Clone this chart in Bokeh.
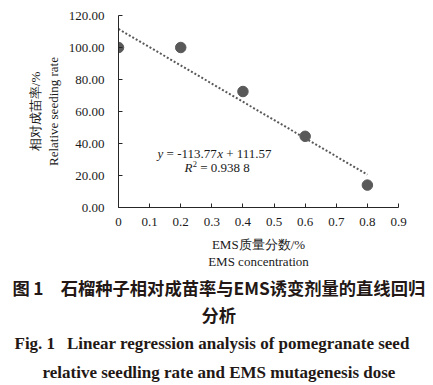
from bokeh.plotting import figure
from bokeh.models import Label, FixedTicker, ColumnDataSource, Range1d, Title
from bokeh.embed import file_html
from bokeh.resources import INLINE

# ---- data ----
ems_conc = [0, 0.2, 0.4, 0.6, 0.8]
seedling_rate = [100.0, 100.0, 72.5, 44.5, 14.0]
slope = -113.77
intercept = 111.57
r2_text = "0.938 8"
x_ticks = [0, 0.1, 0.2, 0.3, 0.4, 0.5, 0.6, 0.7, 0.8, 0.9]
x_tick_labels = ["0", "0.1", "0.2", "0.3", "0.4", "0.5", "0.6", "0.7", "0.8", "0.9"]
y_ticks = [0, 20, 40, 60, 80, 100, 120]
y_tick_labels = ["0.00", "20.00", "40.00", "60.00", "80.00", "100.00", "120.00"]
x_label_cn = "EMS质量分数/%"
x_label_en = "EMS concentration"
y_label_cn = "相对成苗率/%"
y_label_en = "Relative seeding rate"
caption_cn_1 = "图\u20091\u3000石榴种子相对成苗率与EMS诱变剂量的直线回归"
caption_cn_2 = "分析"
caption_en_1 = "Fig. 1\u2002\u2009Linear regression analysis of pomegranate seed"
caption_en_2 = "relative seedling rate and EMS mutagenesis dose"

X0, X1, Y0, Y1 = 0.0, 0.9, 0.0, 120.0
FL, FW, FT, FH = 118, 280, 15, 192  # frame left/width/top/height in px
W, H = 433, 385

p = figure(width=W, height=H, output_backend="svg", toolbar_location=None,
           x_range=Range1d(X0, X1), y_range=Range1d(Y0, Y1),
           min_border_left=FL, min_border_right=W - FL - FW,
           min_border_top=FT, min_border_bottom=H - FT - FH)
p.outline_line_color = None
p.xgrid.visible = False
p.ygrid.visible = False
p.background_fill_color = "white"
p.border_fill_color = "white"

AX = "#262626"
TXT = "#1a1a1a"
SERIF = "Liberation Serif"
CJK = "Noto Sans CJK SC"

for ax in (p.xaxis[0], p.yaxis[0]):
    ax.axis_line_color = AX
    ax.major_tick_line_color = AX
    ax.minor_tick_line_color = None
    ax.major_tick_in = 4
    ax.major_tick_out = 0
    ax.major_label_text_font = SERIF
    ax.major_label_text_font_size = "13px"
    ax.major_label_text_color = TXT
    ax.axis_label_text_font = SERIF
    ax.axis_label_text_font_size = "13px"
    ax.axis_label_text_font_style = "normal"
    ax.axis_label_text_color = TXT
    ax.axis_label_text_line_height = 1.19

p.xaxis[0].ticker = FixedTicker(ticks=x_ticks)
p.xaxis[0].major_label_overrides = {t: l for t, l in zip(x_ticks, x_tick_labels)}
p.xaxis[0].major_label_standoff = 10
p.xaxis[0].axis_label = x_label_cn + "\n" + x_label_en
p.xaxis[0].axis_label_standoff = 8
p.yaxis[0].ticker = FixedTicker(ticks=y_ticks)
p.yaxis[0].major_label_overrides = {t: l for t, l in zip(y_ticks, y_tick_labels)}
p.yaxis[0].major_label_standoff = 14
p.yaxis[0].axis_label = y_label_cn + "\n" + y_label_en
p.yaxis[0].axis_label_standoff = 5

# trend line
trend_x = [ems_conc[0], ems_conc[-1]]
trend_y = [slope * v + intercept for v in trend_x]
p.line(trend_x, trend_y, line_color="#595959", line_width=2, line_dash="2 2")

src = ColumnDataSource(dict(x=ems_conc, y=seedling_rate))
p.scatter("x", "y", source=src, size=10.5, fill_color="#595959", line_color="#595959")

# helpers: canvas px -> data
def dx(px):
    return (px - FL) / FW * (X1 - X0) + X0

def dy(py):
    return (FT + FH - py) / FH * (Y1 - Y0) + Y0

def lab(text, px, py, size, style="normal", xo=0, yo=0):
    p.add_layout(Label(x=dx(px), y=dy(py), text=text, text_font=SERIF,
                       text_font_size=size, text_font_style=style,
                       text_align="left", text_baseline="middle",
                       text_color=TXT, x_offset=xo, y_offset=yo))

NB = "\u00a0"
eq_x, eq_y = 157, 153
fs = "13px"
lab("y", eq_x, eq_y, fs, style="italic")
lab(NB + "=" + NB + "%.2f" % slope, eq_x, eq_y, fs, xo=5.8)
lab("x", eq_x, eq_y, fs, style="italic", xo=59.7)
lab(NB + "+" + NB + "%.2f" % intercept, eq_x, eq_y, fs, xo=65.5)
r_x, r_y = 184, 167
lab("R", r_x, r_y, fs, style="italic")
lab("2", r_x, r_y, "8.5px", xo=8.2, yo=4)
lab(NB + "=" + NB + r2_text.replace(" ", NB), r_x, r_y, fs, xo=12.5)

# captions as titles below
CAP = "#231815"
def cap(text, left_px, font, standoff, size="17px"):
    p.add_layout(Title(text=text, align="left", offset=left_px - FL,
                       text_font=font, text_font_size=size,
                       text_font_style="bold", text_color=CAP, standoff=standoff),
                 "below")

cap(caption_cn_1, 12, CJK, 0, "17.3px")
cap(caption_cn_2, 201, CJK, 0, "17.3px")
cap(caption_en_1, 14, SERIF, 10)
cap(caption_en_2, 42, SERIF, 6)

open("out.html", "w").write(file_html(p, INLINE))
